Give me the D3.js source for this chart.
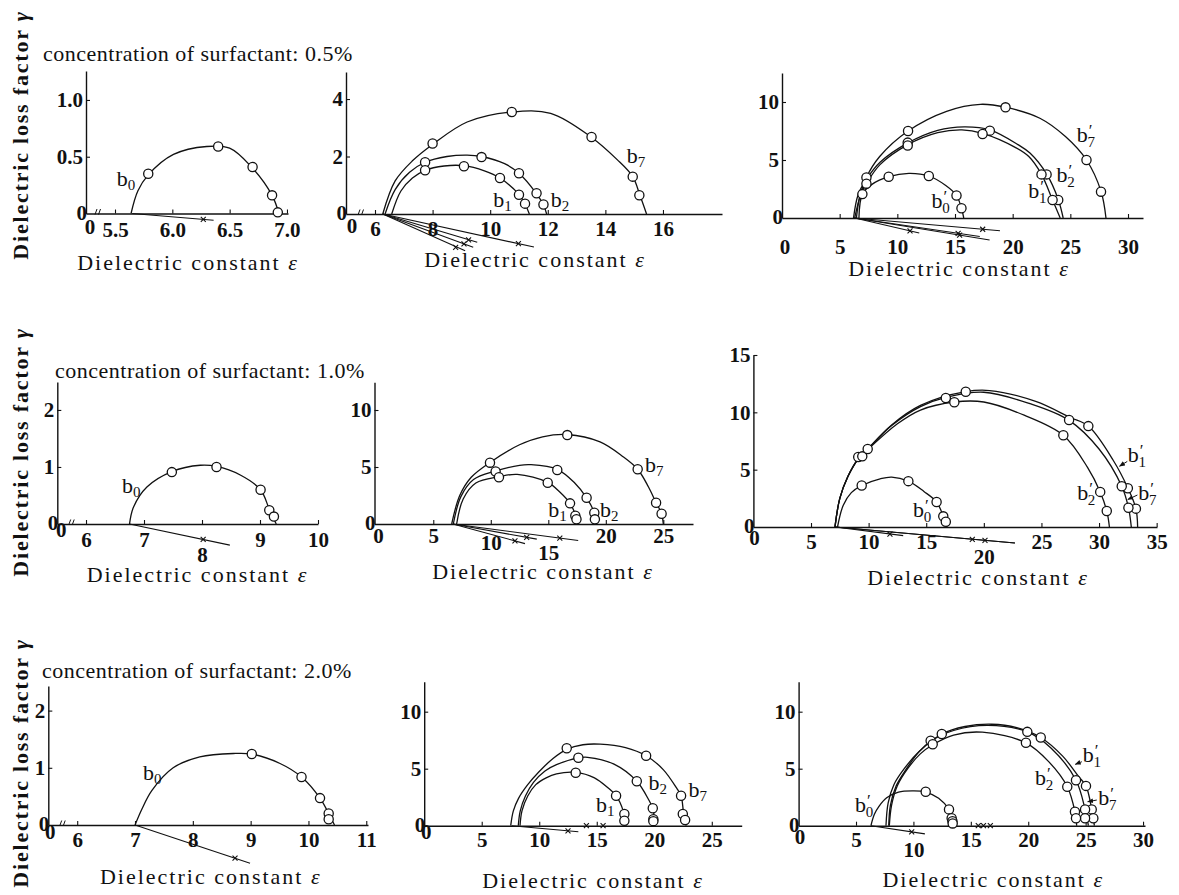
<!DOCTYPE html>
<html><head><meta charset="utf-8">
<script src="https://cdn.jsdelivr.net/npm/d3@7"></script>
<style>
body{margin:0;background:#fff}
svg{display:block}
text{font-family:"Liberation Serif","Times New Roman",serif;fill:#111}
</style>
</head><body>
<svg id="c" width="1179" height="895" font-family="Liberation Serif, serif"></svg>
<script>
// ---------------- DATA ----------------
const rowTitles = ["concentration of surfactant: 0.5%", "concentration of surfactant: 1.0%", "concentration of surfactant: 2.0%"];
const yTitle = "Dielectric loss factor ";
const xTitle = "Dielectric constant ";

// tick values
const xTicksA = [5.5, 6.0, 6.5, 7.0], yTicksA = [0.5, 1.0];
const xTicksB = [6, 8, 10, 12, 14, 16], yTicksB = [2, 4];
const xTicksC = [5, 10, 15, 20, 25, 30], yTicksC = [5, 10];
const xTicksD = [6, 7, 8, 9, 10], yTicksD = [1, 2];
const xTicksE = [5, 10, 15, 20, 25], yTicksE = [5, 10];
const xTicksF = [5, 10, 15, 20, 25, 30, 35], yTicksF = [5, 10, 15];
const xTicksG = [6, 7, 8, 9, 10, 11], yTicksG = [1, 2];
const xTicksH = [5, 10, 15, 20, 25], yTicksH = [5, 10];
const xTicksI = [5, 10, 15, 20, 25, 30], yTicksI = [5, 10];

// --- 0.5% ---
const curveA_b0 = [[5.64,0],[5.70,0.2],[5.79,0.34],[6.01,0.52],[6.30,0.59],[6.50,0.575],[6.69,0.41],[6.87,0.16],[6.93,0]];
const ptsA_b0 = [[5.79,0.35],[6.40,0.59],[6.70,0.41],[6.87,0.16],[6.92,0.01]];

const curveB_b7 = [[6.27,0],[6.7,1.15],[7.3,1.85],[8.0,2.42],[9.2,3.2],[10.75,3.55],[12.1,3.5],[13.5,2.68],[14.4,1.9],[14.95,1.3],[15.2,0.65],[15.43,0]];
const ptsB_b7 = [[8.0,2.45],[10.75,3.55],[13.52,2.68],[14.95,1.3],[15.18,0.65]];
const curveB_b2 = [[6.35,0],[6.7,0.85],[7.2,1.45],[7.74,1.8],[8.5,2.0],[9.2,2.05],[9.7,2.0],[10.5,1.75],[11.0,1.42],[11.6,0.72],[11.85,0.32],[11.96,0]];
const ptsB_b2 = [[7.74,1.8],[9.7,1.98],[11.0,1.42],[11.61,0.72],[11.85,0.33]];
const curveB_b1 = [[6.58,0],[6.9,0.8],[7.3,1.25],[7.74,1.52],[8.4,1.67],[9.09,1.68],[9.8,1.5],[10.34,1.25],[11.0,0.68],[11.21,0.35],[11.36,0]];
const ptsB_b1 = [[7.74,1.52],[9.09,1.66],[10.34,1.25],[11.0,0.67],[11.21,0.36]];

const curveC_b7 = [[6.3,0],[6.74,1.8],[7.32,3.5],[8.47,5.3],[10.93,7.5],[14.27,9.2],[17.2,9.8],[19.38,9.55],[22.36,8.6],[24.6,7.0],[26.4,5.0],[27.66,2.3],[28.09,0]];
const ptsC_b7 = [[7.32,3.5],[10.93,7.5],[19.38,9.54],[26.4,5.0],[27.66,2.27]];
const curveC_b2 = [[6.2,0],[6.6,2.0],[7.3,3.3],[8.5,4.8],[10.88,6.45],[13.5,7.55],[15.8,7.85],[18.02,7.6],[20.5,6.3],[21.5,5.6],[22.94,3.8],[23.95,1.6],[24.38,0]];
const ptsC_b2 = [[10.9,6.5],[18.02,7.53],[22.94,3.76],[23.95,1.55]];
const curveC_b1 = [[6.45,0],[6.8,2.0],[7.32,2.96],[8.5,4.6],[10.88,6.3],[13.5,7.35],[15.6,7.6],[17.39,7.3],[20.3,6.05],[21.4,5.3],[22.5,3.76],[23.46,1.55],[24.12,0]];
const ptsC_b1 = [[7.32,2.96],[10.9,6.25],[17.39,7.24],[22.5,3.76],[23.46,1.55]];
const curveC_b0 = [[6.67,0],[6.97,2.06],[7.8,2.9],[9.25,3.56],[11.0,3.85],[12.73,3.62],[14.2,2.8],[15.13,1.94],[15.56,0.84],[15.76,0]];
const ptsC_b0 = [[6.97,2.06],[9.25,3.56],[12.73,3.62],[15.13,1.94],[15.56,0.84]];

// --- 1.0% ---
const curveD_b0 = [[6.75,0],[6.82,0.3],[7.05,0.65],[7.48,0.92],[7.97,1.03],[8.25,1.01],[8.66,0.86],[9.01,0.6],[9.16,0.26],[9.28,0]];
const ptsD_b0 = [[7.48,0.91],[8.25,1.0],[9.01,0.6],[9.16,0.24],[9.24,0.13]];

const curveE_b7 = [[6.6,0],[7.3,2.5],[8.3,4.1],[9.93,5.4],[12.5,6.95],[14.5,7.65],[16.65,7.85],[19.5,7.2],[21.5,5.9],[22.77,4.8],[23.7,3.27],[24.37,1.87],[24.85,0.9],[25.0,0]];
const ptsE_b7 = [[9.93,5.38],[16.65,7.8],[22.77,4.8],[24.37,1.87],[24.85,0.9]];
const curveE_b2 = [[6.74,0],[7.4,2.4],[8.5,3.9],[10.42,4.65],[12.5,5.15],[13.5,5.2],[15.78,4.8],[17.3,3.6],[18.33,2.3],[19.0,0.99],[19.15,0]];
const ptsE_b2 = [[10.42,4.6],[15.78,4.74],[18.33,2.3],[19.0,0.99],[19.05,0.41]];
const curveE_b1 = [[7.03,0],[7.6,2.2],[8.7,3.6],[10.71,4.15],[12.3,4.35],[14.95,3.65],[16.0,2.8],[16.89,1.8],[17.41,0.7],[17.6,0]];
const ptsE_b1 = [[10.71,4.1],[14.95,3.62],[16.89,1.81],[17.35,0.72],[17.45,0.42]];

const curveF_b1 = [[7.08,0],[7.5,2.5],[8.2,4.4],[9.1,5.95],[9.92,6.8],[12.0,8.9],[14.5,10.6],[18.43,11.8],[20.5,11.9],[24.5,10.95],[27.5,9.55],[29.07,8.8],[31.24,5.8],[32.5,3.4],[33.2,1.6],[33.35,0]];
const ptsF_b1 = [[9.1,6.1],[18.43,11.8],[29.07,8.8],[32.5,3.38],[33.2,1.6]];
const curveF_b7 = [[7.08,0],[7.5,2.5],[8.2,4.4],[9.1,5.95],[9.92,6.8],[12.0,8.85],[14.5,10.5],[16.7,11.3],[20.0,11.75],[24.0,10.75],[27.4,9.3],[30.0,6.8],[31.97,3.55],[32.55,1.7],[32.8,0]];
const ptsF_b7 = [[9.45,6.16],[16.7,11.25],[27.4,9.33],[31.97,3.55],[32.55,1.68]];
const curveF_b2 = [[7.08,0],[7.5,2.5],[8.2,4.4],[9.1,5.95],[9.92,6.75],[12.5,9.0],[14.5,10.2],[17.44,10.9],[20.0,10.9],[23.5,9.75],[26.9,8.0],[29.0,5.2],[30.1,3.06],[30.67,1.4],[30.9,0]];
const ptsF_b2 = [[9.92,6.8],[17.44,10.88],[26.9,8.0],[30.1,3.06],[30.67,1.4]];
const curveF_b0 = [[7.3,0],[7.8,1.9],[8.5,3.0],[9.4,3.62],[11.0,4.2],[12.0,4.35],[13.45,4.0],[14.8,3.1],[15.9,2.18],[16.48,0.93],[16.8,0]];
const ptsF_b0 = [[9.4,3.62],[13.45,4.0],[15.9,2.18],[16.48,0.93],[16.7,0.46]];

// --- 2.0% ---
const curveG_b0 = [[7.0,0],[7.12,0.28],[7.29,0.6],[7.66,1.0],[8.12,1.19],[8.7,1.25],[9.02,1.24],[9.5,1.08],[9.88,0.84],[10.2,0.47],[10.35,0.2],[10.45,0]];
const ptsG_b0 = [[9.02,1.24],[9.88,0.84],[10.2,0.47],[10.35,0.2],[10.35,0.1]];

const curveH_b7 = [[7.52,0],[7.75,1.3],[8.2,2.4],[9.0,3.6],[10.0,4.75],[11.2,5.9],[12.39,6.7],[13.8,7.1],[15.3,7.15],[17.5,6.85],[19.29,6.14],[20.8,4.9],[22.0,3.2],[22.33,2.63],[22.55,1.1],[22.77,0]];
const ptsH_b7 = [[12.39,6.79],[19.29,6.14],[22.33,2.63],[22.48,1.03],[22.68,0.5]];
const curveH_b2 = [[8.18,0],[8.35,1.3],[8.8,2.6],[9.5,3.8],[10.5,4.8],[11.5,5.35],[13.4,5.95],[14.2,6.0],[16.5,5.4],[18.48,3.9],[19.5,2.3],[19.87,1.5],[20.07,0]];
const ptsH_b2 = [[13.4,5.96],[18.48,3.9],[19.87,1.53],[19.92,0.56],[19.92,0.4]];
const curveH_b1 = [[8.33,0],[8.5,1.3],[9.0,2.6],[9.7,3.6],[10.6,4.2],[11.5,4.55],[13.17,4.68],[14.8,4.2],[16.0,3.3],[16.68,2.63],[17.3,1.3],[17.55,0]];
const ptsH_b1 = [[13.17,4.65],[16.68,2.63],[17.4,1.03],[17.4,0.44]];

const curveI_b0 = [[6.3,0],[6.6,1.0],[7.0,1.7],[7.67,2.45],[8.7,2.95],[10.0,3.05],[11.07,2.95],[12.2,2.4],[13.1,1.43],[13.45,0.65],[13.62,0]];
const ptsI_b0 = [[11.07,2.98],[13.1,1.43],[13.33,0.65],[13.4,0.4],[13.42,0.2]];
const curveI_b1 = [[7.61,0],[7.8,2.0],[8.3,3.6],[9.2,5.0],[10.5,6.5],[12.47,8.04],[14.5,8.7],[16.8,8.9],[19.0,8.6],[21.09,7.74],[23.0,6.1],[24.4,4.3],[25.03,3.49],[25.53,1.43],[25.76,0]];
const ptsI_b1 = [[12.47,8.04],[21.09,7.74],[25.03,3.49],[25.53,1.43],[25.67,0.65]];
const curveI_b7 = [[7.85,0],[8.0,1.8],[8.5,3.5],[9.4,5.0],[10.5,6.5],[11.5,7.4],[13.5,8.35],[16.5,8.8],[19.92,8.23],[22.0,6.8],[24.16,3.99],[24.95,1.43],[25.24,0]];
const ptsI_b7 = [[11.5,7.46],[19.92,8.23],[24.16,3.99],[24.95,1.43],[24.95,0.65]];
const curveI_b2 = [[7.9,0],[8.1,1.8],[8.6,3.5],[9.5,5.0],[10.6,6.3],[11.68,7.1],[13.5,7.95],[16.0,8.2],[19.8,7.27],[21.8,5.6],[23.4,3.42],[24.07,1.22],[24.22,0]];
const ptsI_b2 = [[11.68,7.14],[19.8,7.27],[23.4,3.42],[24.07,1.22],[24.16,0.65]];

// tangent lines below the axis: [fromX, fromY, toX, toY, starX, starY]
const tailsA = [[5.65,0,6.36,-0.06,6.27,-0.052]];
const tailsB = [[6.27,0,11.52,-1.15,10.98,-1.03],[6.27,0,9.55,-0.98,9.25,-0.9],[6.27,0,9.41,-1.16,9.09,-1.04],[6.27,0,9.13,-1.28,8.8,-1.16]];
const tailsC = [[6.3,0,18.9,-1.1,17.4,-0.97],[6.3,0,18.0,-1.9,15.4,-1.48],[6.3,0,17.15,-1.6,15.27,-1.32],[6.3,0,11.9,-1.3,11.1,-1.11]];
const tailsD = [[6.75,0,8.48,-0.37,8.02,-0.27]];
const tailsE = [[6.7,0,17.6,-1.45,16.0,-1.24],[6.7,0,14.0,-1.33,13.12,-1.17],[6.7,0,12.97,-1.72,12.1,-1.48]];
const tailsF = [[7.1,0,22.7,-1.4,20.1,-1.17],[7.1,0,22.7,-1.4,19.0,-1.07],[7.1,0,13.0,-0.75,11.85,-0.62]];
const tailsG = [[7.0,0,8.99,-0.67,8.73,-0.58]];
const tailsH = [[7.6,0,13.4,-0.53,12.5,-0.45]];
const tailsI = [[6.3,0,11.0,-0.72,9.85,-0.54]];
const axisMarksH = [14.1, 15.55];
const axisMarksI = [15.65, 16.1, 16.7];

// curve labels: [x, y (left/baseline), subscript, primed]
const labelsA = [[5.515,0.242,"0",false]];
const labelsB = [[14.74,1.76,"7",false],[10.11,0.25,"1",false],[12.1,0.25,"2",false]];
const labelsC = [[25.55,6.58,"7",true],[23.81,3.13,"2",true],[21.35,1.7,"1",true],[12.96,0.84,"0",true]];
const labelsD = [[6.62,0.55,"0",false]];
const labelsE = [[23.41,4.59,"7",false],[19.5,0.64,"2",false],[15.0,0.64,"1",false]];
const labelsF = [[32.5,5.67,"1",true],[33.4,2.35,"7",true],[28.1,2.35,"2",true],[13.85,0.9,"0",true]];
const labelsG = [[7.14,0.79,"0",false]];
const labelsH = [[22.97,2.54,"7",false],[19.49,3.13,"2",false],[14.94,1.23,"1",false]];
const labelsI = [[24.75,5.61,"1",true],[26.1,1.82,"7",true],[20.59,3.57,"2",true],[4.91,1.23,"0",true]];
// leader arrows [fromX, fromY, toX, toY]
const arrowsF = [[32.45,5.72,31.78,5.3],[33.33,2.79,32.5,2.4]];
const arrowsI = [[24.67,5.61,24.1,5.38],[25.97,2.25,25.18,2.1]];

// ---------------- LAYOUT (pixels) ----------------
const layout = [
 {x0:86,   x1:288,  base:213.5, top:71,    xd:[5.247,7.009], ymax:1.255, brk:97,   pad:9,  zOff:13.5, zDx:4, low:{}, xlab:[188,263],
  xt:xTicksA, yt:yTicksA, fmt:".1f", curves:[[curveA_b0,ptsA_b0]], tails:tailsA, labels:labelsA},
 {x0:346,  x1:722,  base:214,   top:72,    xd:[4.993,18.05], ymax:4.94,  brk:360,  pad:7,  zOff:12, zDx:6, low:{}, xlab:[535,260],
  xt:xTicksB, yt:yTicksB, fmt:"d", curves:[[curveB_b7,ptsB_b7],[curveB_b2,ptsB_b2],[curveB_b1,ptsB_b1]], tails:tailsB, labels:labelsB},
 {x0:782,  x1:1143, base:218,   top:73,    xd:[0,31.3],      ymax:12.5,  brk:null, pad:21, zOff:29, zDx:3, low:{}, xlab:[959,269],
  xt:xTicksC, yt:yTicksC, fmt:"d", curves:[[curveC_b7,ptsC_b7],[curveC_b2,ptsC_b2],[curveC_b1,ptsC_b1],[curveC_b0,ptsC_b0]], tails:tailsC, labels:labelsC},
 {x0:57.3, x1:318,  base:524,   top:382,   xd:[5.505,10.0],  ymax:2.49,  brk:70.7, pad:8,  zOff:6, zDx:4, low:{8:15}, xlab:[197.5,575],
  xt:xTicksD, yt:yTicksD, fmt:"d", curves:[[curveD_b0,ptsD_b0]], tails:tailsD, labels:labelsD},
 {x0:374.5,x1:693,  base:524,   top:382.3, xd:[-0.11,27.58], ymax:12.43, brk:null, pad:4,  zOff:12, zDx:4, low:{10:7,15:17}, xlab:[543,571.7],
  xt:xTicksE, yt:yTicksE, fmt:"d", curves:[[curveE_b7,ptsE_b7],[curveE_b2,ptsE_b2],[curveE_b1,ptsE_b1]], tails:tailsE, labels:labelsE},
 {x0:753.4,x1:1157, base:527,   top:355,   xd:[0,35.03],     ymax:15.0,  brk:null, pad:7,  zOff:11, zDx:1, low:{20:15}, xlab:[978,578],
  xt:xTicksF, yt:yTicksF, fmt:"d", curves:[[curveF_b1,ptsF_b1],[curveF_b7,ptsF_b7],[curveF_b2,ptsF_b2],[curveF_b0,ptsF_b0]], tails:tailsF, labels:labelsF, arrows:arrowsF},
 {x0:48.3, x1:368,  base:825,   top:686,   xd:[5.5,11.03],   ymax:2.43,  brk:61.7, pad:7,  zOff:7, zDx:2, low:{}, xlab:[210.8,877],
  xt:xTicksG, yt:yTicksG, fmt:"d", curves:[[curveG_b0,ptsG_b0]], tails:tailsG, labels:labelsG},
 {x0:424.2,x1:741.7,base:825.7, top:681.7, xd:[0,27.6],      ymax:12.63, brk:null, pad:6,  zOff:6, zDx:2, low:{}, xlab:[593,881],
  xt:xTicksH, yt:yTicksH, fmt:"d", curves:[[curveH_b7,ptsH_b7],[curveH_b2,ptsH_b2],[curveH_b1,ptsH_b1]], tails:tailsH, labels:labelsH, marks:axisMarksH},
 {x0:798.6,x1:1145, base:825.7, top:681.7, xd:[0,30.17],     ymax:12.63, brk:null, pad:6,  zOff:11, zDx:1.5, low:{10:10}, xlab:[993.3,880],
  xt:xTicksI, yt:yTicksI, fmt:"d", curves:[[curveI_b0,ptsI_b0],[curveI_b1,ptsI_b1],[curveI_b7,ptsI_b7],[curveI_b2,ptsI_b2]], tails:tailsI, labels:labelsI, arrows:arrowsI, marks:axisMarksI}
];
const rowTitlePos = [[43,61],[55,378],[42,678]];
const yTitlePos = [135,452,763];

// ---------------- DRAW ----------------
const INK = "#111";
const FONT = "Liberation Serif, Times New Roman, serif";
const svg = d3.select("#c");
const defs = svg.append("defs");
defs.append("marker").attr("id","ah").attr("viewBox","0 0 10 10").attr("refX",9).attr("refY",5)
  .attr("markerWidth",6).attr("markerHeight",6).attr("orient","auto")
  .append("path").attr("d","M0,1 L10,5 L0,9 z").attr("fill",INK);

rowTitles.forEach((t,i)=>{
  svg.append("text").attr("x",rowTitlePos[i][0]).attr("y",rowTitlePos[i][1])
    .attr("font-size",22).attr("letter-spacing",0.5).text(t);
  const yt = svg.append("text").attr("transform",`translate(28,${yTitlePos[i]}) rotate(-90)`)
    .attr("text-anchor","middle").attr("font-size",22).attr("font-weight","bold").attr("letter-spacing",1.8);
  yt.append("tspan").text(yTitle);
  yt.append("tspan").attr("font-style","italic").text("γ");
});

const line = d3.line().curve(d3.curveCatmullRom.alpha(0.5));
const timesSym = d3.symbol().type(d3.symbolTimes || d3.symbolCross).size(18);

layout.forEach(p=>{
  const g = svg.append("g");
  const x = d3.scaleLinear().domain(p.xd).range([p.x0,p.x1]);
  const y = d3.scaleLinear().domain([0,p.ymax]).range([p.base,p.top]);
  const fmt = d3.format(p.fmt);

  // x axis
  const gx = g.append("g").attr("transform",`translate(0,${p.base})`)
    .call(d3.axisBottom(x).tickValues(p.xt).tickFormat(fmt).tickSizeInner(-4).tickSizeOuter(0).tickPadding(p.pad));
  gx.attr("font-family",FONT).attr("font-size",21).attr("font-weight","bold").style("color",INK);
  gx.select(".domain").attr("stroke-width",1.4);
  gx.selectAll(".tick line").attr("stroke-width",1.1);
  gx.selectAll(".tick text").attr("transform", d => p.low[d] ? `translate(0,${p.low[d]})` : null);
  // y axis
  const gy = g.append("g").attr("transform",`translate(${p.x0},0)`)
    .call(d3.axisLeft(y).tickValues(p.yt).tickFormat(fmt).tickSizeInner(-4).tickSizeOuter(0).tickPadding(3));
  gy.attr("font-family",FONT).attr("font-size",21).attr("font-weight","bold").style("color",INK);
  gy.select(".domain").attr("stroke-width",1.4);
  gy.selectAll(".tick line").attr("stroke-width",1.1);
  // zeros
  g.append("text").attr("x",p.x0+1).attr("y",p.base-1).attr("dy","0.35em").attr("text-anchor","end")
    .attr("font-size",21).attr("font-weight","bold").text("0");
  g.append("text").attr("x",p.x0+p.zDx).attr("y",p.base+p.zOff).attr("dy","0.35em").attr("text-anchor","middle")
    .attr("font-size",21).attr("font-weight","bold").text("0");
  // axis break
  if(p.brk){
    [0,3.5].forEach(o=>g.append("line").attr("x1",p.brk-2+o).attr("y1",p.base+1).attr("x2",p.brk+o).attr("y2",p.base-4.5)
      .attr("stroke",INK).attr("stroke-width",1));
  }
  // x title
  const xt = g.append("text").attr("x",p.xlab[0]).attr("y",p.xlab[1]).attr("dy","0.33em")
    .attr("text-anchor","middle").attr("font-size",22).attr("letter-spacing",2);
  xt.append("tspan").text(xTitle);
  xt.append("tspan").attr("font-style","italic").text("ε");

  // tails
  p.tails.forEach(t=>{
    g.append("line").attr("x1",x(t[0])).attr("y1",y(t[1])).attr("x2",x(t[2])).attr("y2",y(t[3]))
      .attr("stroke",INK).attr("stroke-width",1.1);
    g.append("path").attr("d",timesSym).attr("transform",`translate(${x(t[4])},${y(t[5])})`)
      .attr("fill","none").attr("stroke",INK).attr("stroke-width",1.1);
  });
  (p.marks||[]).forEach(m=>{
    g.append("path").attr("d",timesSym).attr("transform",`translate(${x(m)},${y(0)})`)
      .attr("fill","none").attr("stroke",INK).attr("stroke-width",1.1);
  });

  // curves
  p.curves.forEach(([c,pts])=>{
    g.append("path").attr("d",line(c.map(d=>[x(d[0]),y(d[1])])))
      .attr("fill","none").attr("stroke",INK).attr("stroke-width",1.3);
  });
  p.curves.forEach(([c,pts])=>{
    g.selectAll(null).data(pts).enter().append("circle")
      .attr("cx",d=>x(d[0])).attr("cy",d=>y(d[1])).attr("r",4.6)
      .attr("fill","#fff").attr("stroke",INK).attr("stroke-width",1.3);
  });

  // labels
  p.labels.forEach(l=>{
    const t = g.append("text").attr("x",x(l[0])).attr("y",y(l[1])).attr("font-size",22);
    t.append("tspan").text("b");
    if(l[3]){
      t.append("tspan").attr("font-size",17).attr("dy",-6).attr("dx",1).text("′");
      t.append("tspan").attr("font-size",15).attr("dx",-5).attr("dy",11).text(l[2]);
    } else {
      t.append("tspan").attr("font-size",15).attr("dy",4).text(l[2]);
    }
  });
  (p.arrows||[]).forEach(a=>{
    g.append("line").attr("x1",x(a[0])).attr("y1",y(a[1])).attr("x2",x(a[2])).attr("y2",y(a[3]))
      .attr("stroke",INK).attr("stroke-width",1).attr("marker-end","url(#ah)");
  });
});
</script>
</body></html>
